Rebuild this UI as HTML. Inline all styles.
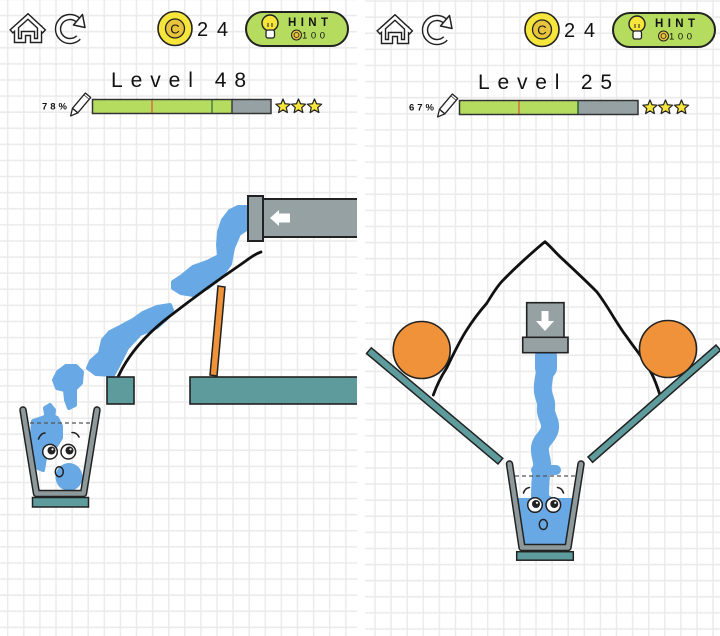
<!DOCTYPE html>
<html><head><meta charset="utf-8"><style>
html,body{margin:0;padding:0;background:#fff;}
svg{display:block;}
text{font-family:"Liberation Sans",sans-serif;fill:#111;}
</style></head><body>
<svg width="720" height="636" viewBox="0 0 720 636" xmlns="http://www.w3.org/2000/svg">
<defs>
<pattern id="gl" x="-0.3" y="-8.5" width="16.1" height="16.1" patternUnits="userSpaceOnUse"><path d="M8,0 V16.1 M0,8 H16.1" stroke="#ebebeb" stroke-width="1.5" fill="none"/></pattern>
<pattern id="gr" x="367" y="-6.9" width="16.1" height="16.1" patternUnits="userSpaceOnUse"><path d="M8,0 V16.1 M0,8 H16.1" stroke="#ebebeb" stroke-width="1.5" fill="none"/></pattern>
<clipPath id="cl"><rect x="0" y="0" width="357" height="636"/></clipPath>
<clipPath id="cr"><rect x="365" y="0" width="355" height="636"/></clipPath>
</defs>
<rect width="720" height="636" fill="#fff"/>
<rect x="0" y="0" width="357" height="636" fill="url(#gl)"/>
<rect x="365" y="0" width="355" height="636" fill="url(#gr)"/>

<!-- LEFT HEADER -->
<g>
 <path d="M13,30 L28,16.5 L42.5,30 M16.5,28 V40.5 H23.5 V33.5 H32.5 V40.5 H39.5 V28" fill="none" stroke="#222" stroke-width="5.5" stroke-linejoin="miter" stroke-linecap="square"/>
 <path d="M13,30 L28,16.5 L42.5,30 M16.5,28 V40.5 H23.5 V33.5 H32.5 V40.5 H39.5 V28" fill="none" stroke="#fff" stroke-width="2.6" stroke-linejoin="miter" stroke-linecap="square"/>
 <path d="M78.5,37.5 A12,12 0 1 1 77.7,19.8" fill="none" stroke="#222" stroke-width="6.5"/>
 <path d="M78.5,37.5 A12,12 0 1 1 77.7,19.8" fill="none" stroke="#fff" stroke-width="3.6"/>
 <polygon points="82.5,14.5 73.5,25 85,27.5" fill="#fff" stroke="#222" stroke-width="1.5" stroke-linejoin="round"/>
 <circle cx="175" cy="28.5" r="17" fill="#f6e53a" stroke="#222" stroke-width="1.6"/>
 <circle cx="175" cy="28.5" r="9.5" fill="#e8c43c" stroke="#222" stroke-width="1.3"/>
 <text x="175" y="33.3" font-size="13" text-anchor="middle">C</text>
 <text x="197" y="36" font-size="20" textLength="31" lengthAdjust="spacing">24</text>
 <rect x="246" y="12" width="102" height="34" rx="17" fill="#b5dc5e" stroke="#222" stroke-width="2"/>
 <circle cx="270" cy="23" r="8" fill="#f6e53a" stroke="#222" stroke-width="1.4"/>
 <path d="M268,27 V23 M272,27 V23" stroke="#222" stroke-width="1"/>
 <rect x="266" y="30" width="8.5" height="8" rx="2" fill="#fff" stroke="#222" stroke-width="1.3"/>
 <text x="288" y="26" font-size="11.5" font-weight="bold" textLength="40" lengthAdjust="spacing">HINT</text>
 <circle cx="296.5" cy="35" r="5" fill="#e8c43c" stroke="#222" stroke-width="1"/>
 <circle cx="296.5" cy="35" r="2.5" fill="none" stroke="#222" stroke-width="0.8"/>
 <text x="302" y="38.5" font-size="9.5" textLength="23" lengthAdjust="spacing">100</text>
 <text x="111" y="87" font-size="21" textLength="135" lengthAdjust="spacing">Level 48</text>
 <text x="42" y="109.5" font-size="9.5" font-weight="bold" textLength="25" lengthAdjust="spacing">78%</text>
 <g transform="translate(79,106) rotate(-50)" fill="#fff" stroke="#222" stroke-width="1.3" stroke-linejoin="round">
  <rect x="-6" y="-3.5" width="18" height="7"/>
  <polygon points="-6,-3.5 -13,0 -6,3.5"/>
  <path d="M12,-3.5 h2 v7 h-2" />
 </g>
 <rect x="92.5" y="99.5" width="178.5" height="14" fill="#96a1a3"/>
 <rect x="92.5" y="99.5" width="139.5" height="14" fill="#b5dc5e"/>
 <line x1="152" y1="99.5" x2="152" y2="113.5" stroke="#e0533a" stroke-width="1.2"/>
 <line x1="212" y1="99.5" x2="212" y2="113.5" stroke="#2f6b3a" stroke-width="1.2"/>
 <line x1="232" y1="99.5" x2="232" y2="113.5" stroke="#333" stroke-width="1.4"/>
 <rect x="92.5" y="99.5" width="178.5" height="14" fill="none" stroke="#333" stroke-width="1.5"/>
 <g fill="#f6e53a" stroke="#222" stroke-width="1.2" stroke-linejoin="round">
  <path transform="translate(283,106.5)" d="M0,-7.5 L2,-2.75 L7.13,-2.32 L3.23,1.05 L4.41,6.07 L0,3.4 L-4.41,6.07 L-3.23,1.05 L-7.13,-2.32 L-2,-2.75 Z"/>
  <path transform="translate(298.5,106.5)" d="M0,-7.5 L2,-2.75 L7.13,-2.32 L3.23,1.05 L4.41,6.07 L0,3.4 L-4.41,6.07 L-3.23,1.05 L-7.13,-2.32 L-2,-2.75 Z"/>
  <path transform="translate(314.5,106.5)" d="M0,-7.5 L2,-2.75 L7.13,-2.32 L3.23,1.05 L4.41,6.07 L0,3.4 L-4.41,6.07 L-3.23,1.05 L-7.13,-2.32 L-2,-2.75 Z"/>
 </g>
</g>

<!-- RIGHT HEADER -->
<g transform="translate(367,1)">
 <path d="M13,30 L28,16.5 L42.5,30 M16.5,28 V40.5 H23.5 V33.5 H32.5 V40.5 H39.5 V28" fill="none" stroke="#222" stroke-width="5.5" stroke-linejoin="miter" stroke-linecap="square"/>
 <path d="M13,30 L28,16.5 L42.5,30 M16.5,28 V40.5 H23.5 V33.5 H32.5 V40.5 H39.5 V28" fill="none" stroke="#fff" stroke-width="2.6" stroke-linejoin="miter" stroke-linecap="square"/>
 <path d="M78.5,37.5 A12,12 0 1 1 77.7,19.8" fill="none" stroke="#222" stroke-width="6.5"/>
 <path d="M78.5,37.5 A12,12 0 1 1 77.7,19.8" fill="none" stroke="#fff" stroke-width="3.6"/>
 <polygon points="82.5,14.5 73.5,25 85,27.5" fill="#fff" stroke="#222" stroke-width="1.5" stroke-linejoin="round"/>
 <circle cx="175" cy="28.5" r="17" fill="#f6e53a" stroke="#222" stroke-width="1.6"/>
 <circle cx="175" cy="28.5" r="9.5" fill="#e8c43c" stroke="#222" stroke-width="1.3"/>
 <text x="175" y="33.3" font-size="13" text-anchor="middle">C</text>
 <text x="197" y="36" font-size="20" textLength="31" lengthAdjust="spacing">24</text>
 <rect x="246" y="12" width="102" height="34" rx="17" fill="#b5dc5e" stroke="#222" stroke-width="2"/>
 <circle cx="270" cy="23" r="8" fill="#f6e53a" stroke="#222" stroke-width="1.4"/>
 <path d="M268,27 V23 M272,27 V23" stroke="#222" stroke-width="1"/>
 <rect x="266" y="30" width="8.5" height="8" rx="2" fill="#fff" stroke="#222" stroke-width="1.3"/>
 <text x="288" y="26" font-size="11.5" font-weight="bold" textLength="40" lengthAdjust="spacing">HINT</text>
 <circle cx="296.5" cy="35" r="5" fill="#e8c43c" stroke="#222" stroke-width="1"/>
 <circle cx="296.5" cy="35" r="2.5" fill="none" stroke="#222" stroke-width="0.8"/>
 <text x="302" y="38.5" font-size="9.5" textLength="23" lengthAdjust="spacing">100</text>
 <text x="111" y="88" font-size="21" textLength="134" lengthAdjust="spacing">Level 25</text>
 <text x="42" y="109.5" font-size="9.5" font-weight="bold" textLength="25" lengthAdjust="spacing">67%</text>
 <g transform="translate(79,106) rotate(-50)" fill="#fff" stroke="#222" stroke-width="1.3" stroke-linejoin="round">
  <rect x="-6" y="-3.5" width="18" height="7"/>
  <polygon points="-6,-3.5 -13,0 -6,3.5"/>
  <path d="M12,-3.5 h2 v7 h-2" />
 </g>
 <rect x="92.5" y="99.5" width="178.5" height="14" fill="#96a1a3"/>
 <rect x="92.5" y="99.5" width="118.5" height="14" fill="#b5dc5e"/>
 <line x1="152" y1="99.5" x2="152" y2="113.5" stroke="#e0533a" stroke-width="1.2"/>
 <line x1="211" y1="99.5" x2="211" y2="113.5" stroke="#2f6b3a" stroke-width="1.6"/>
 <rect x="92.5" y="99.5" width="178.5" height="14" fill="none" stroke="#333" stroke-width="1.5"/>
 <g fill="#f6e53a" stroke="#222" stroke-width="1.2" stroke-linejoin="round">
  <path transform="translate(283,106.5)" d="M0,-7.5 L2,-2.75 L7.13,-2.32 L3.23,1.05 L4.41,6.07 L0,3.4 L-4.41,6.07 L-3.23,1.05 L-7.13,-2.32 L-2,-2.75 Z"/>
  <path transform="translate(298.5,106.5)" d="M0,-7.5 L2,-2.75 L7.13,-2.32 L3.23,1.05 L4.41,6.07 L0,3.4 L-4.41,6.07 L-3.23,1.05 L-7.13,-2.32 L-2,-2.75 Z"/>
  <path transform="translate(314.5,106.5)" d="M0,-7.5 L2,-2.75 L7.13,-2.32 L3.23,1.05 L4.41,6.07 L0,3.4 L-4.41,6.07 L-3.23,1.05 L-7.13,-2.32 L-2,-2.75 Z"/>
 </g>
</g>

<!-- LEFT SCENE -->
<g clip-path="url(#cl)">
 <!-- water blobs -->
 <g fill="#68a9e5" stroke="#68a9e5" stroke-width="4" stroke-linejoin="round">
  <path d="M248,207 L238,207 L230,211 L223,220 L219,232 L218,245 L219,256 L207,262 L193,267 L182,276 L173,282 L173,288 L181,293 L193,295 L207,288 L220,278 L230,264 L233,248 L239,234 L248,228 Z"/>
  <path d="M170,305 L157,307 L143,313 L133,320 L120,327 L110,332 L103,340 L100,353 L91,361 L88,368 L96,374 L113,375 L118,366 L127,348 L140,334 L157,327 L167,318 L172,310 Z"/>
  <path d="M54,380 L58,372 L66,366 L76,366 L82,372 L81,383 L75,389 L75,405 L69,408 L66,400 L65,390 L57,388 Z"/>
  <path d="M45,408 L50,405 L54,410 L53,420 L47,421 Z"/>
  <path d="M33,421 L42,418 L50,415 L57,418 L61,426 L61,438 L56,446 L49,449 L45,458 L43,470 L38,468 L35,452 L32,435 Z"/>
 </g>
 <ellipse cx="69" cy="477" rx="13.5" ry="14" fill="#68a9e5"/>
 <!-- pipe -->
 <rect x="263" y="199" width="110" height="38" fill="#96a1a3" stroke="#222" stroke-width="2"/>
 <rect x="248" y="196" width="15" height="45" fill="#96a1a3" stroke="#222" stroke-width="2"/>
 <polygon points="270,218 279,210 279,213.5 290,213.5 290,222.5 279,222.5 279,226" fill="#fff"/>
 <!-- curve -->
 <path d="M118,377 C128,355 145,335 170,316 C192,299 218,280 240,265 C250,258 255,254 261,252" fill="none" stroke="#111" stroke-width="2.8" stroke-linecap="round"/>
 <!-- orange stick -->
 <polygon points="218,286 225,287 217,376 210,375" fill="#ef9239" stroke="#222" stroke-width="1.5"/>
 <!-- blocks -->
 <rect x="107" y="377" width="27" height="27" fill="#5e9b9d" stroke="#222" stroke-width="1.6"/>
 <rect x="190" y="377" width="180" height="27" fill="#5e9b9d" stroke="#222" stroke-width="1.6"/>
 <!-- cup -->
 <line x1="30" y1="423" x2="92" y2="423" stroke="#555" stroke-width="1.2" stroke-dasharray="4,3"/>
 <path d="M23,410 L36.5,493.5 L83.5,493.5 L97,410" fill="none" stroke="#222" stroke-width="7.5" stroke-linecap="round" stroke-linejoin="round"/>
 <path d="M23,410 L36.5,493.5 L83.5,493.5 L97,410" fill="none" stroke="#8e999b" stroke-width="4.5" stroke-linecap="round" stroke-linejoin="round"/>
 <rect x="32.5" y="497.5" width="56" height="9.5" fill="#5e9b9d" stroke="#222" stroke-width="1.5"/>
 <!-- face -->
 <path d="M38.5,439 Q41,433 45,433" fill="none" stroke="#222" stroke-width="1.6" stroke-linecap="round"/>
 <path d="M72,432.5 Q77,432.5 79,437" fill="none" stroke="#222" stroke-width="1.6" stroke-linecap="round"/>
 <circle cx="50" cy="451.7" r="7.3" fill="#fff" stroke="#222" stroke-width="1.5"/>
 <circle cx="68.3" cy="451.7" r="7.3" fill="#fff" stroke="#222" stroke-width="1.5"/>
 <circle cx="51.5" cy="450.5" r="4" fill="#222"/>
 <circle cx="69.5" cy="450.5" r="4" fill="#222"/>
 <circle cx="52.5" cy="449.3" r="1.1" fill="#fff"/>
 <circle cx="70.5" cy="449.3" r="1.1" fill="#fff"/>
 <ellipse cx="59.3" cy="471.7" rx="4" ry="5" fill="none" stroke="#222" stroke-width="1.5"/>
</g>

<!-- RIGHT SCENE -->
<g clip-path="url(#cr)">
 <!-- mountain line -->
 <path d="M433.3,395 C438,382 442,375 446.7,368 C453,355 459,342 466.7,330 C473,320 480,311 486.7,303.3 C492,295 497,286 503.3,280 C512,271 530,254 545,241.7 C552,248 556,253 560,256.7 C570,266 588,283 596.7,291.7 C603,300 608,308 613.3,316.7 C618,324 622,331 626.7,336.7 C633,346 639,353 643.3,360 C648,367 651,372 653.3,377 C656,383 658,389 660,395" fill="none" stroke="#111" stroke-width="2.8" stroke-linejoin="round" stroke-linecap="round"/>
 <!-- planks -->
 <polygon points="371.3,347.8 502.8,458.3 498,464 366.5,353.5" fill="#5e9b9d" stroke="#222" stroke-width="1.5"/>
 <polygon points="588,457 716,345 720.6,350.3 592.6,462.3" fill="#5e9b9d" stroke="#222" stroke-width="1.5"/>
 <!-- balls -->
 <circle cx="421.7" cy="350" r="28.5" fill="#ef9239" stroke="#222" stroke-width="1.6"/>
 <circle cx="668" cy="349" r="28.5" fill="#ef9239" stroke="#222" stroke-width="1.6"/>
 <!-- water stream -->
 <path d="M546,355 C545,362 545,368 545,372 C544,378 542,385 543,392 C544,398 547,402 546,408 C545,415 551,421 550,428 C549,436 541,440 540,447 C539,455 543,460 542,467 C541,474 540,482 540,498" fill="none" stroke="#68a9e5" stroke-width="18" stroke-linecap="round" stroke-linejoin="round"/>
 <path d="M546,356 L546,368" stroke="#68a9e5" stroke-width="22" stroke-linecap="round"/>
 <path d="M536,470 L556,470" stroke="#68a9e5" stroke-width="10" stroke-linecap="round"/>
 <!-- cup water -->
 <polygon points="514.5,498 576,498 567,546 523.5,546" fill="#68a9e5"/>
 <path d="M530,499 Q540,486 554,499 Z" fill="#68a9e5"/>
 <!-- dispenser -->
 <rect x="526.7" y="302.7" width="37.3" height="34.6" fill="#96a1a3" stroke="#222" stroke-width="1.6"/>
 <rect x="522.7" y="337.3" width="45.3" height="15.4" fill="#96a1a3" stroke="#222" stroke-width="1.6"/>
 <polygon points="541.5,311 548.5,311 548.5,321 554,321 545,331 536,321 541.5,321" fill="#fff"/>
 <!-- cup -->
 <line x1="515" y1="476" x2="577" y2="476" stroke="#555" stroke-width="1.2" stroke-dasharray="4,3"/>
 <path d="M509.5,464 L522,547.5 L568,547.5 L581,464" fill="none" stroke="#222" stroke-width="7.5" stroke-linecap="round" stroke-linejoin="round"/>
 <path d="M509.5,464 L522,547.5 L568,547.5 L581,464" fill="none" stroke="#8e999b" stroke-width="4.5" stroke-linecap="round" stroke-linejoin="round"/>
 <rect x="516.7" y="551.7" width="56.6" height="8.5" fill="#5e9b9d" stroke="#222" stroke-width="1.5"/>
 <!-- face -->
 <path d="M523.5,493 Q525,488 529.5,487.5" fill="none" stroke="#222" stroke-width="1.6" stroke-linecap="round"/>
 <path d="M557.5,487.5 Q562,488 563.5,493" fill="none" stroke="#222" stroke-width="1.6" stroke-linecap="round"/>
 <circle cx="535" cy="505" r="7.3" fill="#fff" stroke="#222" stroke-width="1.5"/>
 <circle cx="553.3" cy="505" r="7.3" fill="#fff" stroke="#222" stroke-width="1.5"/>
 <circle cx="536" cy="504" r="4" fill="#222"/>
 <circle cx="554.3" cy="504" r="4" fill="#222"/>
 <circle cx="537" cy="502.8" r="1.1" fill="#fff"/>
 <circle cx="555.3" cy="502.8" r="1.1" fill="#fff"/>
 <ellipse cx="543.3" cy="524.5" rx="4" ry="5" fill="none" stroke="#222" stroke-width="1.5"/>
</g>
</svg>
</body></html>
